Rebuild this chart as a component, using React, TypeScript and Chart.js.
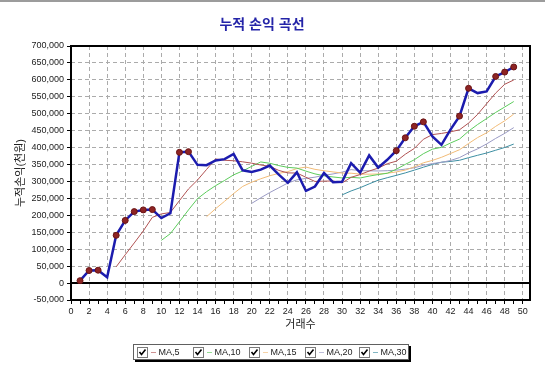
import React, { useEffect, useRef } from "react";
import { Chart, registerables } from "chart.js";

Chart.register(...registerables);

// ---- data (thousand won values, scaled below) ----
const equityK = [
  7, 37, 38, 17, 141, 185, 211, 216, 217, 192,
  206, 386, 388, 349, 348, 362, 366, 381, 333, 328,
  335, 347, 320, 296, 327, 272, 285, 325, 298, 299,
  354, 326, 377, 341, 364, 391, 429, 463, 476, 433,
  408, 453, 493, 575, 561, 566, 610, 623, 638,
];
const ma5Start = 5;
const ma5K = [
  48, 83.6, 118.4, 154, 194, 204.2, 208.4, 243.4, 277.8, 304.2,
  335.4, 366.6, 362.6, 361.2, 358, 354, 348.6, 344.8, 332.6, 325.2,
  325, 312.4, 300, 301, 301.4, 295.8, 312.2, 320.4, 330.8, 339.4,
  352.4, 359.8, 380.4, 397.6, 424.6, 438.4, 441.8, 446.6, 452.6, 472.4,
  498, 529.6, 561, 587, 599.6,
];
const ma10Start = 10;
const ma10K = [
  126.1, 146, 180.9, 215.9, 249.1, 269.8, 287.5, 303, 319.5, 331.1,
  344.7, 357.6, 353.7, 346.9, 341.6, 339.5, 330.5, 322.4, 316.8, 313.3,
  310.4, 312.3, 310.2, 315.9, 320.4, 324.1, 336, 350.4, 364.2, 382,
  395.4, 400.8, 413.5, 425.1, 448.5, 468.2, 485.7, 503.8, 519.8, 536,
];
const ma15Start = 15;
const ma15K = [
  195.9, 219.5, 241.5, 264.3, 285.4, 297.9, 307.9, 316.9, 323.9, 329.1,
  338.1, 342.5, 335.8, 331.6, 328.2, 324.9, 324.4, 321.7, 321.5, 322,
  324.4, 328.1, 333.6, 343.1, 355.1, 362.2, 371.3, 382.5, 393.7, 412.1,
  429.6, 443.7, 462.7, 479.1, 498.9,
];
const ma20Start = 20;
const ma20K = [
  235.4, 251.8, 267.3, 281.4, 295.4, 304.7, 309, 312.7, 318.2, 322.2,
  327.6, 335, 332, 331.4, 331, 331.8, 333.3, 336.4, 340.5, 347.7,
  352.9, 356.6, 361.9, 370.5, 384.5, 396.2, 410.9, 427.1, 442, 459,
];
const ma30Start = 30;
const ma30K = [
  260.4, 272, 281.6, 292.9, 303.7, 311.1, 318, 325.3, 333.5, 342.1,
  350.2, 356.9, 359.1, 362.6, 370.2, 377.3, 384.1, 392.2, 400.3, 410.4,
];
const yTickMin = -50000;
const yTickMax = 700000;
const yTickStep = 50000;
const xTickMin = 0;
const xTickMax = 50.8;
const legendLabels = ["MA,5", "MA,10", "MA,15", "MA,20", "MA,30"];

const titleText = "누적 손익 곡선";
const xTitle = "거래수";
const yTitle = "누적손익(천원)";

const FONT = "Arial, 'Liberation Sans', 'Noto Sans CJK KR', sans-serif";
const MA_COLORS = ["#b05252", "#5ccc5c", "#f2bc78", "#9a9ac4", "#3c8ea2"];
const GRID = "#ababab";

const toPoints = (start: number, vals: number[]) =>
  vals.map((v, i) => ({ x: start + i, y: v * 1000 }));

const chromePlugin = {
  id: "chrome",
  beforeDatasetsDraw(chart: any) {
    const { ctx, chartArea, scales } = chart;
    const y0 = scales.y.getPixelForValue(0);
    ctx.save();
    ctx.strokeStyle = "#000";
    ctx.lineWidth = 2;
    ctx.beginPath();
    ctx.moveTo(chartArea.left, y0);
    ctx.lineTo(chartArea.right, y0);
    ctx.stroke();
    ctx.restore();
  },
  afterDraw(chart: any) {
    const { ctx, chartArea } = chart;
    ctx.save();
    ctx.strokeStyle = "#000";
    ctx.lineWidth = 2;
    ctx.strokeRect(
      chartArea.left,
      chartArea.top,
      chartArea.right - chartArea.left,
      chartArea.bottom - chartArea.top
    );
    ctx.fillStyle = "#2424a8";
    ctx.font = `bold 14px ${FONT}`;
    ctx.textAlign = "center";
    ctx.textBaseline = "middle";
    ctx.fillText(titleText, 262, 25);
    ctx.restore();
  },
};

function CheckBox() {
  return (
    <svg width="11" height="11" style={{ display: "inline-block", verticalAlign: "middle" }}>
      <rect x="0.5" y="0.5" width="10" height="10" fill="#fff" stroke="#7a7a7a" />
      <polyline points="2.5,5 4.5,7.5 8.5,2.5" fill="none" stroke="#000" strokeWidth="1.6" />
    </svg>
  );
}

export default function App() {
  const ref = useRef<HTMLCanvasElement | null>(null);

  useEffect(() => {
    if (!ref.current) return;
    const equity = equityK.map((v, i) => ({ x: i + 1, y: v * 1000 }));
    const maSets = [
      toPoints(ma5Start, ma5K),
      toPoints(ma10Start, ma10K),
      toPoints(ma15Start, ma15K),
      toPoints(ma20Start, ma20K),
      toPoints(ma30Start, ma30K),
    ];
    const chart = new Chart(ref.current, {
      type: "line",
      data: {
        datasets: [
          {
            label: "누적손익",
            data: equity,
            borderColor: "#1c1cae",
            borderWidth: 2.5,
            tension: 0,
            order: 0,
            pointRadius: (c: any) => {
              const i = c.dataIndex;
              const v = equityK[i];
              for (let k = 0; k < i; k++) if (equityK[k] >= v) return 0;
              return 3;
            },
            pointBackgroundColor: "#8e2424",
            pointBorderColor: "#6a1414",
            pointBorderWidth: 1,
          },
          ...maSets.map((d, i) => ({
            label: legendLabels[i],
            data: d,
            borderColor: MA_COLORS[i],
            borderWidth: 1,
            tension: 0,
            pointRadius: 0,
            order: 1 + i,
          })),
        ] as any,
      },
      options: {
        animation: false,
        responsive: false,
        parsing: false as any,
        layout: { padding: { top: 46, right: 15, left: 0, bottom: 0 } },
        plugins: {
          legend: { display: false },
          title: { display: false },
          tooltip: { enabled: false },
        },
        scales: {
          x: {
            type: "linear",
            min: xTickMin,
            max: xTickMax,
            afterFit: (s: any) => {
              s.height = 76;
            },
            ticks: {
              stepSize: 1,
              includeBounds: false,
              autoSkip: false,
              maxRotation: 0,
              padding: 2,
              color: "#222",
              font: { family: FONT, size: 9 },
              callback: (v: any) => (Number(v) % 2 === 0 ? String(v) : ""),
            },
            grid: {
              color: (c: any) => (c.tick && c.tick.value % 2 === 0 ? GRID : "rgba(0,0,0,0)"),
              lineWidth: 1,
              tickColor: "#000",
              tickLength: 4,
              tickBorderDash: [],
            } as any,
            border: { display: false, dash: [4, 3] } as any,
            title: {
              display: true,
              text: xTitle,
              color: "#222",
              font: { family: FONT, size: 11 },
              padding: { top: 0, bottom: 44 },
            },
          },
          y: {
            type: "linear",
            min: yTickMin,
            max: yTickMax,
            afterFit: (s: any) => {
              s.width = 71;
            },
            ticks: {
              stepSize: yTickStep,
              padding: 3,
              color: "#222",
              font: { family: FONT, size: 9 },
              callback: (v: any) => Number(v).toLocaleString("en-US"),
            },
            grid: {
              color: GRID,
              lineWidth: 1,
              tickColor: "#000",
              tickLength: 4,
              tickBorderDash: [],
            } as any,
            border: { display: false, dash: [4, 3] } as any,
            title: {
              display: true,
              text: yTitle,
              color: "#222",
              font: { family: FONT, size: 11 },
              padding: { top: 14, bottom: 0 },
            },
          },
        },
      },
      plugins: [chromePlugin],
    });
    return () => chart.destroy();
  }, []);

  return (
    <div
      style={{
        position: "fixed",
        left: 0,
        top: 0,
        width: 545,
        height: 376,
        background: "#fff",
        overflow: "hidden",
      }}
    >
      <div style={{ position: "absolute", left: 0, top: 0, width: 545, height: 2, background: "#9c9c9c" }} />
      <canvas ref={ref} width={545} height={376} style={{ position: "absolute", left: 0, top: 0, display: "block" }} />
      <div
        style={{
          position: "absolute",
          left: 133,
          top: 344,
          width: 274,
          height: 14,
          border: "1px solid #606060",
          background: "#fff",
          boxShadow: "2px 2px 0 #000",
          fontFamily: FONT,
          fontSize: 9,
          color: "#222",
          whiteSpace: "nowrap",
        }}
      >
        {legendLabels.map((lab, i) => (
          <div
            key={lab}
            style={{
              position: "absolute",
              left: [3, 59, 115, 171, 225][i],
              top: 1,
              display: "flex",
              alignItems: "center",
              gap: 3,
              lineHeight: "12px",
            }}
          >
            <CheckBox />
            <span>
              <span style={{ color: MA_COLORS[i] }}>–</span> {lab}
            </span>
          </div>
        ))}
      </div>
    </div>
  );
}
